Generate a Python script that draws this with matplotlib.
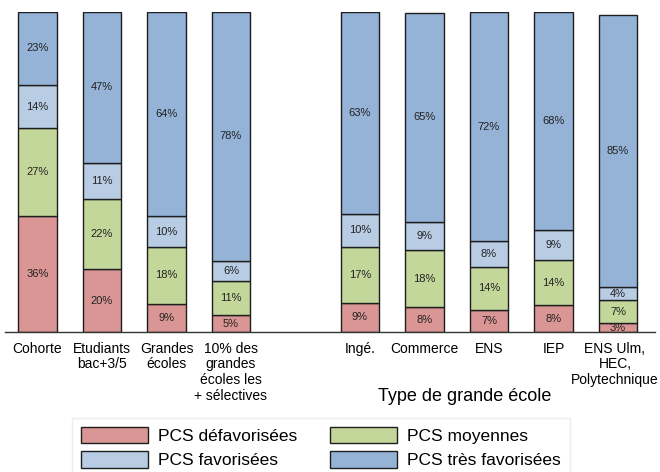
import numpy as np
import matplotlib.pyplot as plt
from matplotlib.transforms import ScaledTranslation

plt.rcParams['font.family'] = ['Liberation Sans', 'DejaVu Sans']

# categories (x positions keep a gap between the two groups)
categories = ["Cohorte", "Etudiants\nbac+3/5", "Grandes\nécoles",
              "10% des\ngrandes\nécoles les\n+ sélectives",
              "Ingé.", "Commerce", "ENS", "IEP",
              "ENS Ulm,\nHEC,\nPolytechnique"]
positions = [0, 1, 2, 3, 5, 6, 7, 8, 9]

# shares in % (bottom to top)
defavorisees = [36.2, 19.6, 8.8, 5.2, 9.2, 7.8, 6.8, 8.3, 2.8]
moyennes = [27.4, 21.9, 17.8, 10.6, 17.4, 17.8, 13.6, 14.2, 7.1]
favorisees = [13.7, 11.4, 9.5, 6.4, 10.3, 8.8, 8.0, 9.3, 4.1]
tres_favorisees = [22.7, 47.1, 63.9, 77.8, 63.1, 65.4, 71.6, 68.2, 85.1]

series = [("PCS défavorisées", defavorisees, "#da9694"),
          ("PCS moyennes", moyennes, "#c4d79b"),
          ("PCS favorisées", favorisees, "#b8cce4"),
          ("PCS très favorisées", tres_favorisees, "#95b3d7")]

fig = plt.figure(figsize=(6.6, 4.72), dpi=100)
ax = fig.add_axes([5 / 660, 140 / 472, 650 / 660, 320 / 472])

bottom = np.zeros(len(positions))
handles = []
for name, vals, col in series:
    vals = np.array(vals)
    bars = ax.bar(positions, vals, bottom=bottom, width=0.6, color=col,
                  edgecolor="#1e1e1e", linewidth=1, label=name)
    handles.append(bars)
    for x, b, v in zip(positions, bottom, vals):
        ax.text(x, b + v / 2, f"{round(v):d}%", ha="center", va="center",
                fontsize=8, color="#222222")
    bottom += vals

ax.set_xlim(-0.504, 9.574)
ax.set_ylim(0, 100)
ax.set_xticks(positions)
ax.set_xticklabels(categories, fontsize=10, linespacing=1.15)
ax.tick_params(axis="x", length=0, pad=7)
# last label sits right against the edge, nudge it inside
last = ax.get_xticklabels()[-1]
last.set_transform(last.get_transform() + ScaledTranslation(-3 / 100, 0, fig.dpi_scale_trans))
ax.set_yticks([])
for s in ["top", "left", "right"]:
    ax.spines[s].set_visible(False)
ax.spines["bottom"].set_color("#333333")
ax.spines["bottom"].set_linewidth(1)

fig.text(465 / 660, 1 - 401 / 472, "Type de grande école", ha="center",
         va="baseline", fontsize=13)

# legend fills column by column: reorder so rows read like the reference
leg_handles = [handles[0], handles[2], handles[1], handles[3]]
leg = fig.legend(handles=leg_handles, loc="upper left", ncol=2,
                 bbox_to_anchor=(72 / 660, 1 - 418 / 472), fontsize=12.5,
                 handlelength=3.85, handleheight=1.1, handletextpad=0.6,
                 columnspacing=1.9, labelspacing=0.4, borderpad=0.5,
                 borderaxespad=0, fancybox=False, frameon=True)
leg.get_frame().set_edgecolor("#e4ecee")
leg.get_frame().set_linewidth(1)

fig.savefig("out.png", dpi=100)
